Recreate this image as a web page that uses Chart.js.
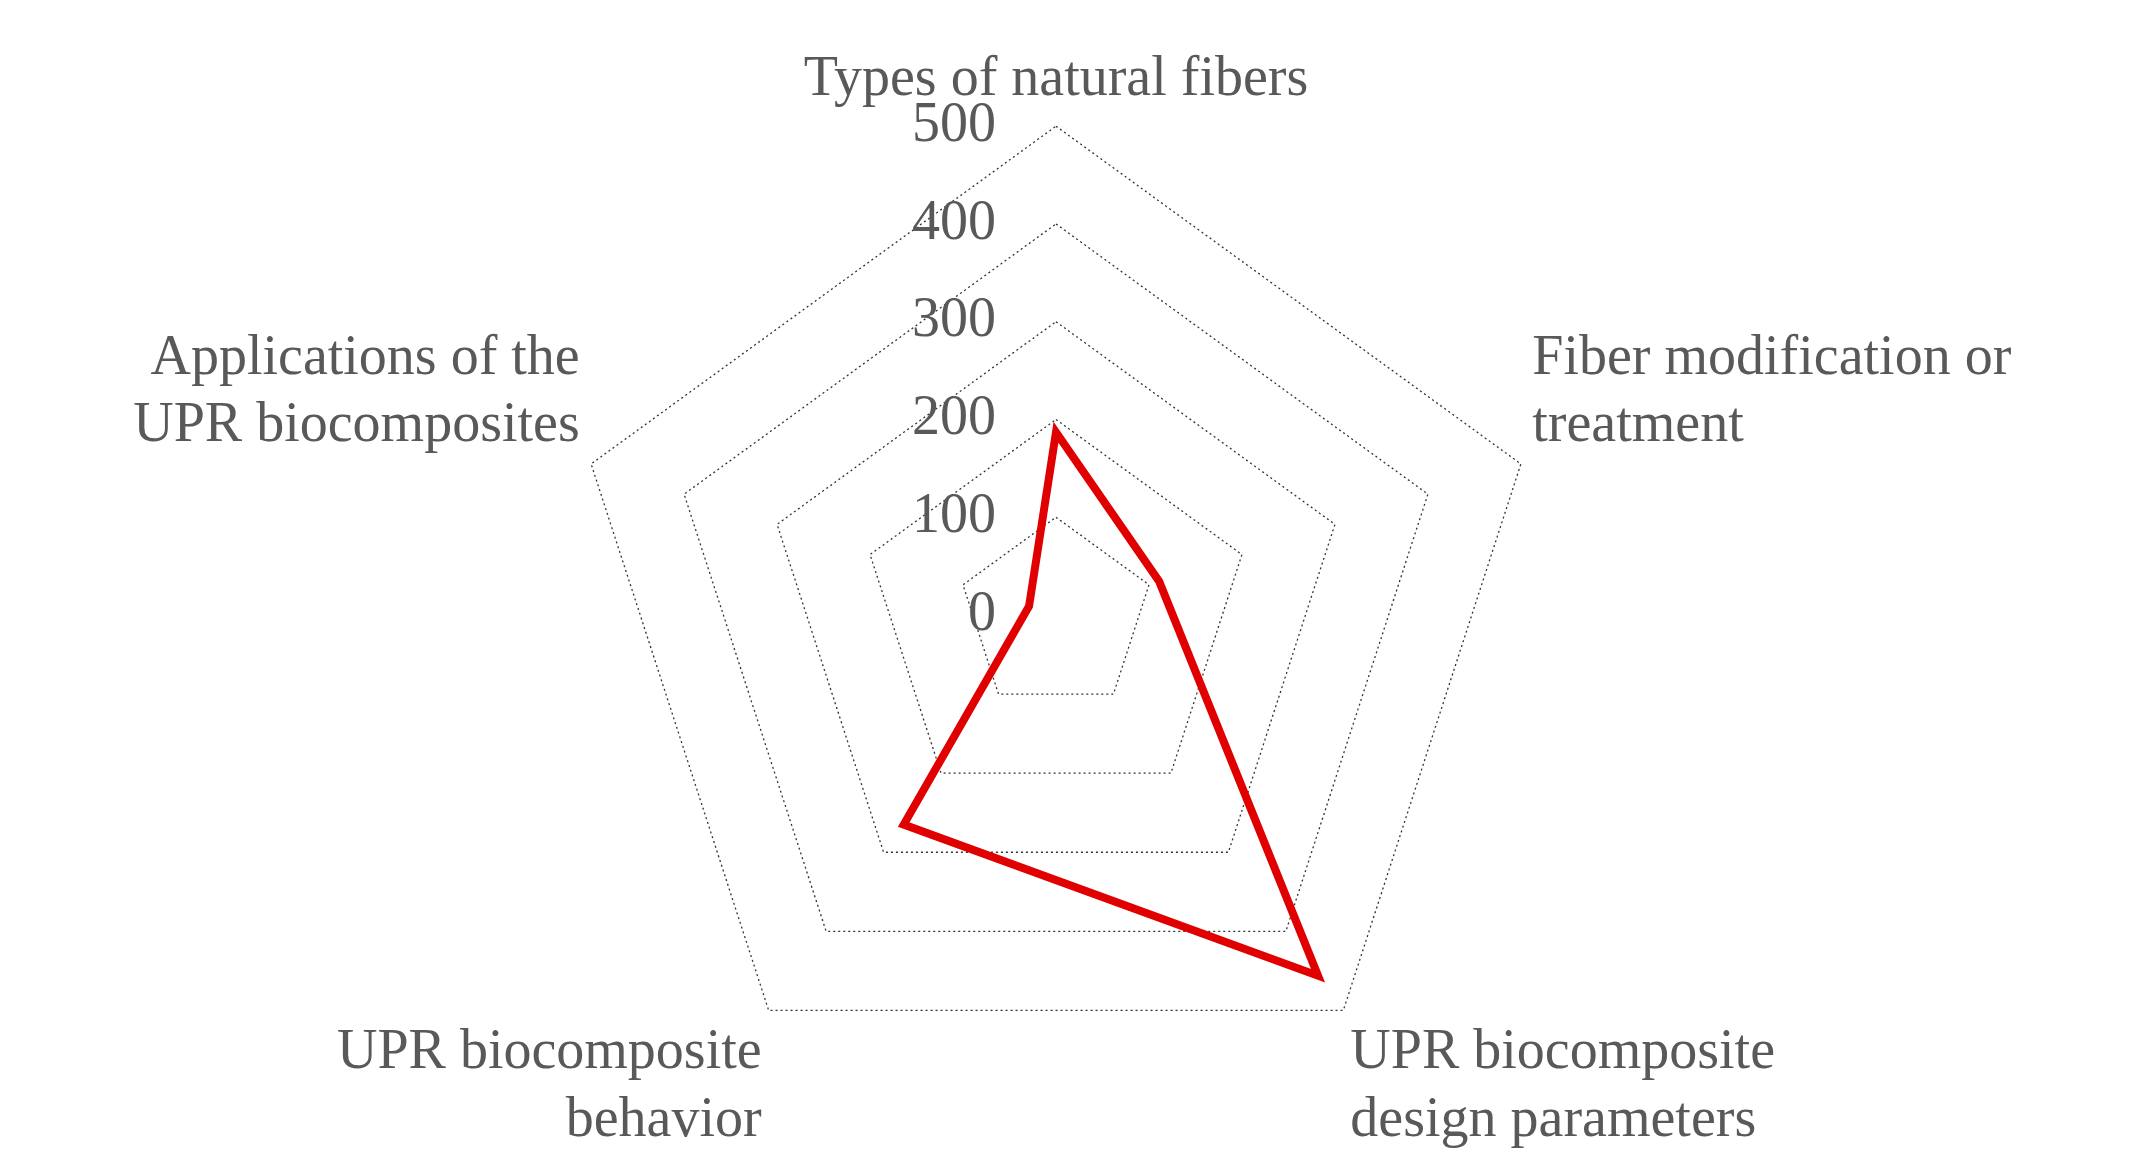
<!DOCTYPE html>
<html>
<head>
<meta charset="utf-8">
<script src="https://cdn.jsdelivr.net/npm/chart.js@4/dist/chart.umd.min.js"></script>
<style>
  html, body { margin: 0; padding: 0; background: #fff; }
  #wrap { width: 2143px; height: 1166px; }
</style>
</head>
<body>
<div id="wrap"><canvas id="radar"></canvas></div>
<script>
// Categories and values
const categories = [
  "Types of natural fibers",
  ["Fiber modification or", "treatment"],
  ["UPR biocomposite", "design parameters"],
  ["UPR biocomposite", "behavior"],
  ["Applications of the", "UPR biocomposites"]
];
const counts = [187, 111, 456, 265, 29];
const tickValues = [0, 100, 200, 300, 400, 500];

const grey = '#595959';
const font = 'Liberation Serif, Times New Roman, serif';

// draw tick labels left of the vertical axis, like the original
const tickLabels = {
  id: 'tickLabels',
  afterDraw(chart) {
    const s = chart.scales.r;
    const ctx = chart.ctx;
    ctx.save();
    ctx.fillStyle = grey;
    ctx.font = '56px ' + font;
    ctx.textAlign = 'right';
    ctx.textBaseline = 'middle';
    tickValues.forEach(v => {
      const d = s.getDistanceFromCenterForValue(v);
      ctx.fillText(String(v), s.xCenter - 60, s.yCenter - d);
    });
    ctx.restore();
  }
};

new Chart(document.getElementById('radar'), {
  type: 'radar',
  data: {
    labels: categories,
    datasets: [{
      data: counts,
      borderColor: '#e00000',
      borderWidth: 8,
      backgroundColor: 'rgba(0,0,0,0)',
      pointRadius: 0,
      tension: 0
    }]
  },
  options: {
    responsive: true,
    maintainAspectRatio: false,
    animation: false,
    layout: { padding: { top: 30, bottom: 0, left: 10, right: 40 } },
    plugins: { legend: { display: false }, tooltip: { enabled: false } },
    scales: {
      r: {
        min: 0,
        max: 500,
        ticks: { stepSize: 100, display: false },
        angleLines: { display: false },
        grid: { color: '#333', lineWidth: 1.3 },
        border: { dash: [2, 3] },
        pointLabels: {
          color: grey,
          padding: 12,
          font: { family: font, size: 56 }
        }
      }
    }
  },
  plugins: [tickLabels]
});
</script>
</body>
</html>
